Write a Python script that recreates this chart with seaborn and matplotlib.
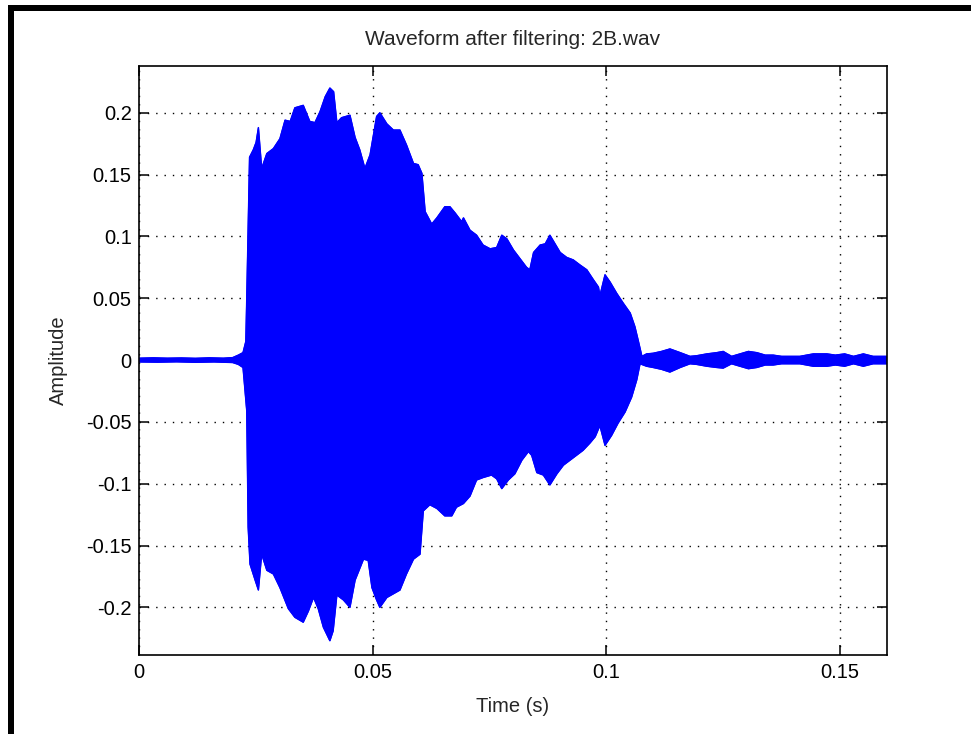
import numpy as np
import matplotlib
matplotlib.use("Agg")
import matplotlib.pyplot as plt
import seaborn as sns
from matplotlib.patches import Rectangle

# ---------------- data (envelope of the filtered waveform) ----------------
t_upper = [0.000, 0.003, 0.006, 0.009, 0.012, 0.015, 0.018, 0.020, 0.0212, 0.0222, 0.0228, 0.0230,
           0.0233, 0.0236, 0.0244, 0.0250, 0.0255, 0.0262, 0.0273, 0.0287, 0.0301, 0.0312, 0.0323,
           0.0333, 0.0351, 0.0365, 0.0376, 0.0387, 0.0398, 0.0408, 0.0416, 0.0423, 0.0433, 0.0451,
           0.0462, 0.0472, 0.0483, 0.0494, 0.0508, 0.0515, 0.0530, 0.0544, 0.0558, 0.0572, 0.0587,
           0.0597, 0.0605, 0.0612, 0.0626, 0.0637, 0.0654, 0.0665, 0.0676, 0.0690, 0.0694, 0.0708,
           0.0722, 0.0736, 0.0751, 0.0765, 0.0776, 0.0787, 0.0801, 0.0815, 0.0829, 0.0836, 0.0844,
           0.0858, 0.0869, 0.0879, 0.0890, 0.0901, 0.0915, 0.0929, 0.0943, 0.0958, 0.0972, 0.0983,
           0.0986, 0.0997, 0.1008, 0.1022, 0.1036, 0.1051, 0.1061, 0.1068, 0.1076, 0.1086, 0.1100,
           0.1118, 0.1136, 0.1158, 0.1179, 0.1193, 0.1215, 0.1236, 0.1250, 0.1268, 0.1286, 0.1304,
           0.1322, 0.1340, 0.1357, 0.1375, 0.1397, 0.1414, 0.1443, 0.1472, 0.1490, 0.1510, 0.1529,
           0.1550, 0.1571, 0.1600]
amp_upper = [0.0015, 0.0018, 0.0015, 0.0017, 0.0014, 0.0018, 0.0015, 0.0020, 0.0040, 0.0060, 0.0150, 0.050,
             0.107, 0.164, 0.170, 0.176, 0.188, 0.155, 0.167, 0.171, 0.179, 0.194, 0.193,
             0.204, 0.206, 0.193, 0.192, 0.201, 0.213, 0.220, 0.217, 0.192, 0.196, 0.198,
             0.180, 0.170, 0.155, 0.166, 0.197, 0.200, 0.191, 0.186, 0.186, 0.174, 0.159,
             0.158, 0.151, 0.120, 0.110, 0.115, 0.124, 0.124, 0.119, 0.112, 0.115, 0.105,
             0.101, 0.093, 0.090, 0.091, 0.101, 0.098, 0.089, 0.082, 0.075, 0.073, 0.087,
             0.093, 0.094, 0.101, 0.094, 0.087, 0.083, 0.081, 0.077, 0.073, 0.065, 0.059,
             0.052, 0.069, 0.063, 0.054, 0.046, 0.038, 0.027, 0.016, 0.003, 0.005, 0.0055,
             0.007, 0.009, 0.006, 0.003, 0.0035, 0.005, 0.006, 0.007, 0.003, 0.005, 0.007,
             0.006, 0.004, 0.004, 0.003, 0.003, 0.003, 0.005, 0.005, 0.004, 0.005, 0.003,
             0.005, 0.003, 0.003]

t_lower = [0.000, 0.004, 0.008, 0.012, 0.016, 0.020, 0.0212, 0.0222, 0.0230, 0.0233, 0.0237, 0.0248,
           0.0255, 0.0262, 0.0273, 0.0287, 0.0301, 0.0319, 0.0333, 0.0351, 0.0362, 0.0373, 0.0383,
           0.0394, 0.0408, 0.0415, 0.0423, 0.0437, 0.0451, 0.0462, 0.0480, 0.0490, 0.0498, 0.0508,
           0.0515, 0.0530, 0.0544, 0.0558, 0.0572, 0.0587, 0.0601, 0.0608, 0.0622, 0.0637, 0.0654,
           0.0669, 0.0679, 0.0694, 0.0708, 0.0722, 0.0736, 0.0754, 0.0765, 0.0776, 0.0790, 0.0804,
           0.0819, 0.0833, 0.0840, 0.0851, 0.0865, 0.0879, 0.0894, 0.0908, 0.0922, 0.0936, 0.0950,
           0.0965, 0.0976, 0.0986, 0.0997, 0.1011, 0.1025, 0.1040, 0.1054, 0.1065, 0.1072, 0.1086,
           0.1100, 0.1118, 0.1136, 0.1158, 0.1179, 0.1193, 0.1215, 0.1236, 0.1250, 0.1268, 0.1286,
           0.1304, 0.1322, 0.1340, 0.1357, 0.1375, 0.1397, 0.1414, 0.1443, 0.1472, 0.1490, 0.1510,
           0.1529, 0.1550, 0.1571, 0.1600]
amp_lower = [-0.0015, -0.0017, -0.0014, -0.0018, -0.0015, -0.0020, -0.0035, -0.0060, -0.041, -0.135, -0.165, -0.178,
             -0.186, -0.157, -0.170, -0.173, -0.184, -0.201, -0.208, -0.212, -0.203, -0.192, -0.201,
             -0.216, -0.227, -0.219, -0.190, -0.194, -0.200, -0.178, -0.161, -0.162, -0.184, -0.194,
             -0.200, -0.192, -0.189, -0.186, -0.173, -0.161, -0.157, -0.122, -0.117, -0.120, -0.126,
             -0.126, -0.119, -0.116, -0.110, -0.097, -0.095, -0.093, -0.096, -0.104, -0.097, -0.092,
             -0.081, -0.074, -0.077, -0.091, -0.093, -0.101, -0.092, -0.085, -0.081, -0.077, -0.073,
             -0.067, -0.062, -0.053, -0.069, -0.061, -0.051, -0.042, -0.030, -0.016, -0.003, -0.005,
             -0.006, -0.0075, -0.0097, -0.006, -0.003, -0.0035, -0.005, -0.006, -0.0065, -0.003, -0.005,
             -0.007, -0.006, -0.004, -0.004, -0.003, -0.003, -0.003, -0.005, -0.005, -0.004, -0.005,
             -0.003, -0.005, -0.003, -0.003]

x_ticks = [0, 0.05, 0.1, 0.15]
x_tick_labels = ["0", "0.05", "0.1", "0.15"]
y_ticks = [-0.2, -0.15, -0.1, -0.05, 0, 0.05, 0.1, 0.15, 0.2]
y_tick_labels = ["-0.2", "-0.15", "-0.1", "-0.05", "0", "0.05", "0.1", "0.15", "0.2"]

title_text = "Waveform after filtering: 2B.wav"
x_label = "Time (s)"
y_label = "Amplitude"

# ---------------- style ----------------
sns.set_style("ticks")
plt.rcParams["font.family"] = ["Liberation Sans", "DejaVu Sans"]
FS = 14.5

W, H = 971, 734
fig = plt.figure(figsize=(W / 100, H / 100), dpi=100)
fig.patch.set_facecolor("white")
ax = fig.add_axes([139.3 / W, 1 - 655 / H, (886.7 - 139.3) / W, (655 - 66) / H])
ax.set_facecolor("white")

wave_blue = (0, 0, 1)
t_up = np.asarray(t_upper)
a_up = np.asarray(amp_upper)
t_lo = np.asarray(t_lower)
a_lo = np.asarray(amp_lower)

ax.fill(np.concatenate([t_up, t_lo[::-1]]), np.concatenate([a_up, a_lo[::-1]]),
        color=wave_blue, lw=0.8, zorder=2)
sns.lineplot(x=t_up, y=a_up, ax=ax, color=wave_blue, lw=1, zorder=3)
sns.lineplot(x=t_lo, y=a_lo, ax=ax, color=wave_blue, lw=1, zorder=3)

ax.set_xlim(0, 0.16)
ax.set_ylim(-0.2385, 0.2378)
ax.set_xticks(x_ticks)
ax.set_xticklabels(x_tick_labels)
ax.set_yticks(y_ticks)
ax.set_yticklabels(y_tick_labels)

ax.grid(True, color="black", linestyle=(0, (1, 5)), lw=1)
ax.set_axisbelow(True)
for s in ax.spines.values():
    s.set_color("black")
    s.set_linewidth(1.2)
    s.set_zorder(5)
ax.tick_params(direction="in", length=7, width=1.1, top=True, right=True,
               labelsize=FS, colors="black", pad=5.5)

ax.set_title(title_text, fontsize=15, pad=15)
ax.set_xlabel(x_label, fontsize=FS, labelpad=11)
ax.set_ylabel(y_label, fontsize=FS, labelpad=13)

# black frame (top and left) around the figure
fig.add_artist(Rectangle((8 / W, 1 - 11 / H), (W - 8) / W, 6 / H,
                         transform=fig.transFigure, color="black", lw=0))
fig.add_artist(Rectangle((8 / W, 0), 6 / W, (H - 5) / H,
                         transform=fig.transFigure, color="black", lw=0))

fig.savefig("out.png", dpi=100, facecolor="white")
